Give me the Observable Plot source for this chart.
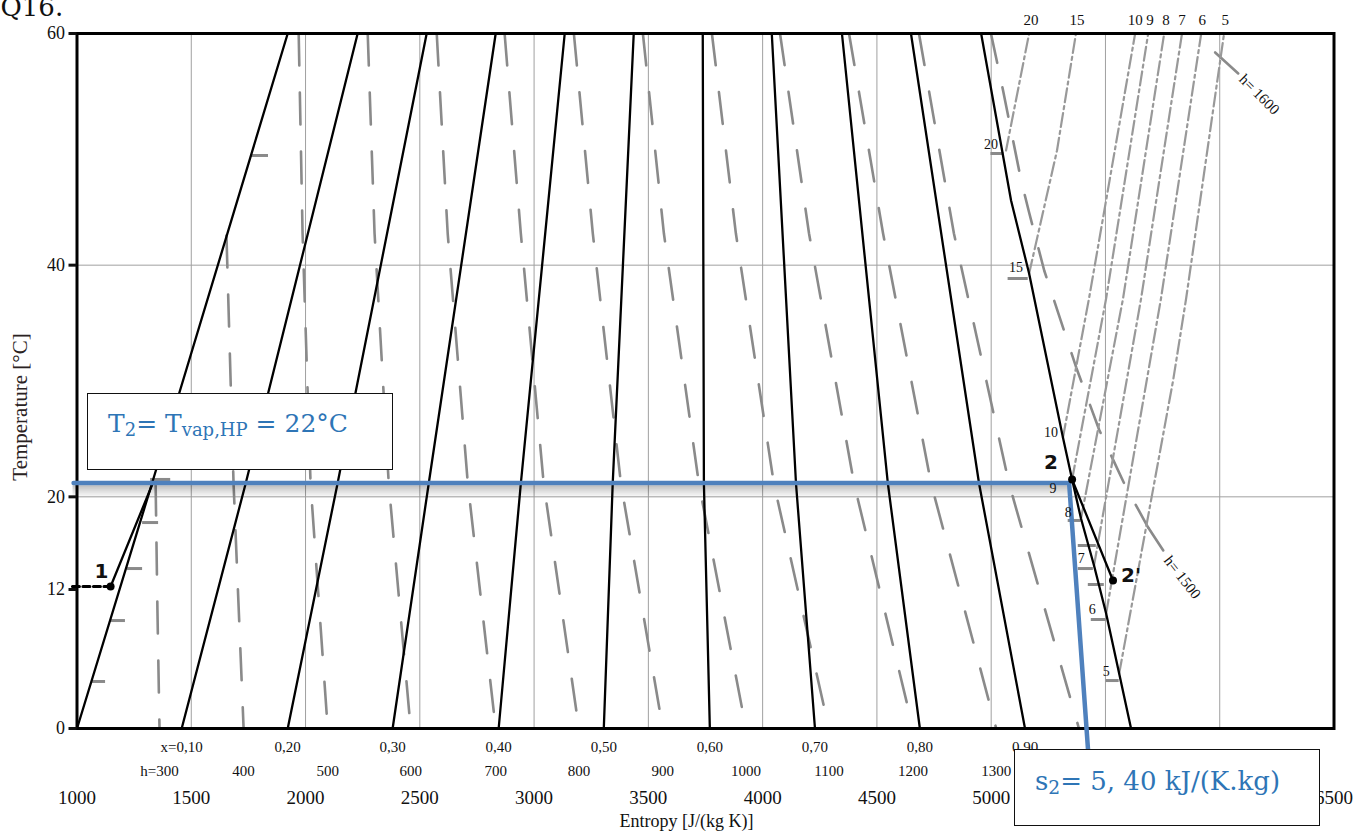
<!DOCTYPE html>
<html><head><meta charset="utf-8">
<script src="https://cdn.jsdelivr.net/npm/d3@7"></script>
<script src="https://cdn.jsdelivr.net/npm/@observablehq/plot@0.6"></script>
<style>
body{margin:0;background:#fff;}
#wrap{position:relative;width:1365px;height:834px;overflow:hidden;background:#fff;}
.box{position:absolute;background:#fff;border:1.5px solid #111;box-sizing:border-box;font-family:"DejaVu Serif",serif;color:#2E75B6;line-height:26px;white-space:nowrap;}
.box span.t{position:absolute;}
.box sub{font-size:0.72em;vertical-align:-0.2em;line-height:0;}
</style></head><body>
<div id="wrap">
<div id="chart"></div>
<div class="box" style="left:87px;top:393px;width:306px;height:77px;font-size:25px;"><span class="t" style="left:20px;top:17px;">T<sub>2</sub>= T<sub>vap,HP</sub> = 22°C</span></div>
<div class="box" style="left:1014px;top:749px;width:306px;height:77px;font-size:26px;"><span class="t" style="left:20px;top:18px;">s<sub>2</sub>= 5, 40 kJ/(K.kg)</span></div>
</div>
<script>
// ---- axes / grid ----
const sTickLabels = [1000,1500,2000,2500,3000,3500,4000,4500,5000,6500]; // 5500 and 6000 are hidden by the note box
const sGrid = [1500,2000,2500,3000,3500,4000,4500,5000,5500,6000];
const tTicks = [0,12,20,40,60];
const tGrid = [20,40];

// ---- quality lines (x = 0 ... 0.9), s read at T = 0, 21.15, 60 ----
const qualityLabels = ["x=0,10","0,20","0,30","0,40","0,50","0,60","0,70","0,80","0,90"];
const qualityTemps = [0,21.15,60];
const qualityS_T0 = [1000,1458,1922,2381,2845,3305,3769,4229,4688,5148];
const qualityS_Tmid = [1328,1738,2140,2539,2942,3344,3743,4146,4548,4947];
const qualityS_T60 = [1922,2228,2530,2832,3134,3436,3738,4040,4347,4649];

// ---- saturated vapour line ----
const satVapT = [0,4.75,9.93,14.07,18.13,21.15,25.12,39.28,45.58,60];
const satVapS = [5612,5560,5503,5450,5393,5358,5314,5166,5087,4956];

// ---- enthalpy lines in the wet region [kJ/kg] ----
const enthalpyValues = [300,400,500,600,700,800,900,1000,1100,1200,1300,1400];
const enthalpyS = [
  [1344,1352,1361],
  [1654,1685,1729],
  [1970,1987,2022,2097],
  [2272,2302,2364,2460],
  [2574,2622,2710,2832],
  [2871,2942,3042,3196],
  [3174,3257,3380,3563],
  [3476,3568,3721,3927],
  [3778,3883,4049,4290],
  [4076,4203,4400,4658],
  [4378,4527,4737,5022],
  [4684,4837,5078,5384]
];
const enthalpyT = [
  [21.15,10.19,0],
  [42.56,21.15,0],
  [60,42.73,21.15,0],[60,42.73,21.15,0],[60,42.73,21.15,0],[60,42.73,21.15,0],
  [60,42.73,21.15,0],[60,42.73,21.15,0],[60,42.73,21.15,0],[60,42.73,21.15,0],
  [60,42.73,21.15,0],[60,42.73,21.15,0]
];
const hLabels = ["h=300","400","500","600","700","800","900","1000","1100","1200","1300"]; // 1400 hidden by the note box

// ---- superheated enthalpy lines ----
const h1500S = [4999,5052,5131,5166,5232,5372,5472,5586,5687];
const h1500T = [60,55.08,47.31,44.55,39.54,31.17,25.81,20.98,17.35];
const h1500LeaderS = [5687,5753];
const h1500LeaderT = [17.35,15.37];
const h1600LeaderS = [5980,6081];
const h1600LeaderT = [58.36,56.55];
const hSuperLabels = ["h= 1500","h= 1600"];
const hSuperLabelS = [5836,6173];
const hSuperLabelT = [13.04,54.73];

// ---- isobars [bar] in superheated region ----
const pressureValues = [20,15,10,9,8,7,6,5];
const pressureS = [[5065,5166],[5166,5288,5371],[5314,5428,5630],[5354,5503,5687],[5393,5577,5757],[5450,5656,5835],[5503,5743,5919],[5560,5796,5853,6019]];
const pressureT = [[49.9,60],[39.28,49.9,60],[25.12,37.12,60],[21.5,37.12,60],[18.13,37.12,60],[14.07,37.12,60],[9.93,37.12,60],[4.75,30.04,37.12,60]];
const pressureTopLabelS = [5174,5375,5630,5695,5765,5835,5923,6024];
const pressureSideLabelS = [4999,5109,5262,5271,5337,5394,5442,5503];
const pressureSideLabelT = [50.42,39.80,25.55,20.72,18.65,14.68,10.27,4.92];

// ---- pressure tick marks on saturation lines ----
const tickVapT = [49.64,38.85,17.96,15.80,13.81,12.43,9.41,4.14];
const tickVapS1 = [4999,5074,5337,5381,5381,5425,5438,5503];
const tickVapS2 = [5056,5162,5393,5460,5447,5495,5503,5560];
const tickLiqT = [49.47,21.5,17.78,13.81,9.32,4.06];
const tickLiqS1 = [1760,1322,1287,1221,1147,1068];
const tickLiqS2 = [1838,1410,1357,1287,1212,1125];

// ---- cycle points ----
const procPointS = [1147,5354,5533];
const procPointT = [12.26,21.5,12.78];
const procLabels = ["1","2","2'"];
const procLabelS = [1107,5262,5612];
const procLabelT = [13.55,22.96,13.21];
const proc1S = [1147,1331], proc1T = [12.26,21.15];
const proc2S = [5354,5533], proc2T = [21.5,12.78];
const guide12S = [980,1147], guide12T = [12.26,12.26];
const blueS = [985,5341,5424], blueT = [21.2,21.2,-1.9];

// ---- build tables ----
const pts = (S,T,k) => S.map((s,i)=>({s, T:T[i], k}));
const qualityLines = qualityS_T0.flatMap((s0,i)=>[
  {s:s0,T:qualityTemps[0],k:i},{s:qualityS_Tmid[i],T:qualityTemps[1],k:i},{s:qualityS_T60[i],T:qualityTemps[2],k:i}]);
const hLines = enthalpyS.flatMap((arr,i)=>pts(arr,enthalpyT[i],enthalpyValues[i]));
const pLines = pressureS.flatMap((arr,i)=>pts(arr,pressureT[i],pressureValues[i]));
const tickData = tickVapT.map((T,i)=>({T,s1:tickVapS1[i],s2:tickVapS2[i]}))
  .concat(tickLiqT.map((T,i)=>({T,s1:tickLiqS1[i],s2:tickLiqS2[i]})));
const blueHoriz = pts(blueS.slice(0,2), blueT.slice(0,2), 0);
const shadowSteps = [[3,0.2],[5,0.16],[7,0.12],[9,0.09],[11,0.06],[13,0.03]];

const serif = "Liberation Serif, Times New Roman, serif";
const grey = "#8a8a8a";

const plot = Plot.plot({
  width:1365, height:834,
  marginLeft:76.5, marginRight:31.5, marginTop:33, marginBottom:106,
  x:{domain:[1000,6500], axis:null},
  y:{domain:[0,60]},
  style:{fontFamily:serif, fontSize:"18px", color:"#111", background:"transparent", overflow:"visible"},
  marks:[
    Plot.ruleX(sGrid,{stroke:"#a0a0a0", strokeWidth:1}),
    Plot.ruleY(tGrid,{stroke:"#a0a0a0", strokeWidth:1}),
    Plot.line(hLines,{x:"s",y:"T",z:"k",stroke:grey,strokeWidth:2.6,strokeDasharray:"32,27"}),
    Plot.line(pts(h1500S,h1500T,0),{x:"s",y:"T",stroke:grey,strokeWidth:2.6,strokeDasharray:"30,25"}),
    Plot.line(pts(h1500LeaderS,h1500LeaderT,0),{x:"s",y:"T",stroke:grey,strokeWidth:2.6}),
    Plot.line(pts(h1600LeaderS,h1600LeaderT,0),{x:"s",y:"T",stroke:grey,strokeWidth:2.6}),
    Plot.line(pLines,{x:"s",y:"T",z:"k",stroke:"#999",strokeWidth:2.2,strokeDasharray:"14,4,3,4"}),
    Plot.ruleY(tickData,{y:"T",x1:"s1",x2:"s2",stroke:grey,strokeWidth:3}),
    Plot.line(qualityLines,{x:"s",y:"T",z:"k",stroke:"#000",strokeWidth:2.3}),
    Plot.line(pts(satVapS,satVapT,0),{x:"s",y:"T",stroke:"#000",strokeWidth:2.3}),
    Plot.line(pts(proc1S,proc1T,0),{x:"s",y:"T",stroke:"#000",strokeWidth:2.3}),
    Plot.line(pts(proc2S,proc2T,0),{x:"s",y:"T",stroke:"#000",strokeWidth:2.3}),
    Plot.line(pts(guide12S,guide12T,0),{x:"s",y:"T",stroke:"#000",strokeWidth:3,strokeDasharray:"7,3.5"}),
    Plot.frame({stroke:"#000",strokeWidth:3}),
    Plot.axisY(tTicks,{tickSize:8,strokeWidth:3,tickPadding:4,fontSize:18,label:null,fontFamily:serif}),
    // soft shadow under the blue marker line
    ...shadowSteps.map(([dy,op])=>Plot.line(blueHoriz,{x:"s",y:"T",stroke:"#000",strokeOpacity:op,strokeWidth:2.5,dy})),
    Plot.line(pts(blueS,blueT,0),{x:"s",y:"T",stroke:"#4F81BD",strokeWidth:4.5}),
    Plot.dot(pts(procPointS,procPointT,0),{x:"s",y:"T",r:4,fill:"#000",stroke:null}),
    // axis text
    Plot.text(sTickLabels,{x:d=>d,text:d=>String(d),frameAnchor:"bottom",lineAnchor:"middle",dy:69,fontSize:19}),
    Plot.text(qualityLabels,{x:(d,i)=>qualityS_T0[i+1],text:d=>d,frameAnchor:"bottom",lineAnchor:"middle",dy:19,fontSize:15}),
    Plot.text(hLabels,{x:(d,i)=>enthalpyS[i][enthalpyS[i].length-1],text:d=>d,frameAnchor:"bottom",lineAnchor:"middle",dy:43,fontSize:15}),
    Plot.text(["Entropy [J/(kg K)]"],{frameAnchor:"bottom",lineAnchor:"middle",dx:-19,dy:93,fontSize:18}),
    Plot.text(["Temperature [°C]"],{frameAnchor:"left",textAnchor:"middle",lineAnchor:"middle",dx:-56.5,dy:26,rotate:-90,fontSize:21,fill:"#2a2222"}),
    Plot.text(["Q16."],{frameAnchor:"top-left",dx:-76.5,dy:-18,textAnchor:"start",lineAnchor:"bottom",fontSize:26,fontFamily:"DejaVu Serif"}),
    // isobar labels
    Plot.text(pressureValues,{x:(d,i)=>pressureTopLabelS[i],text:d=>String(d),frameAnchor:"top",lineAnchor:"middle",dy:-13,fontSize:15}),
    Plot.text(pressureValues,{x:(d,i)=>pressureSideLabelS[i],y:(d,i)=>pressureSideLabelT[i],text:d=>String(d),fontSize:14}),
    Plot.text(hSuperLabels,{x:(d,i)=>hSuperLabelS[i],y:(d,i)=>hSuperLabelT[i],text:d=>d,rotate:(d,i)=>i===0?52:45,fontSize:15}),
    // cycle labels
    Plot.text(procLabels,{x:(d,i)=>procLabelS[i],y:(d,i)=>procLabelT[i],text:d=>d,fontSize:20,fontWeight:"bold",fontFamily:"DejaVu Sans",fill:"#111"})
  ]
});
document.getElementById("chart").appendChild(plot);
</script>
</body></html>
